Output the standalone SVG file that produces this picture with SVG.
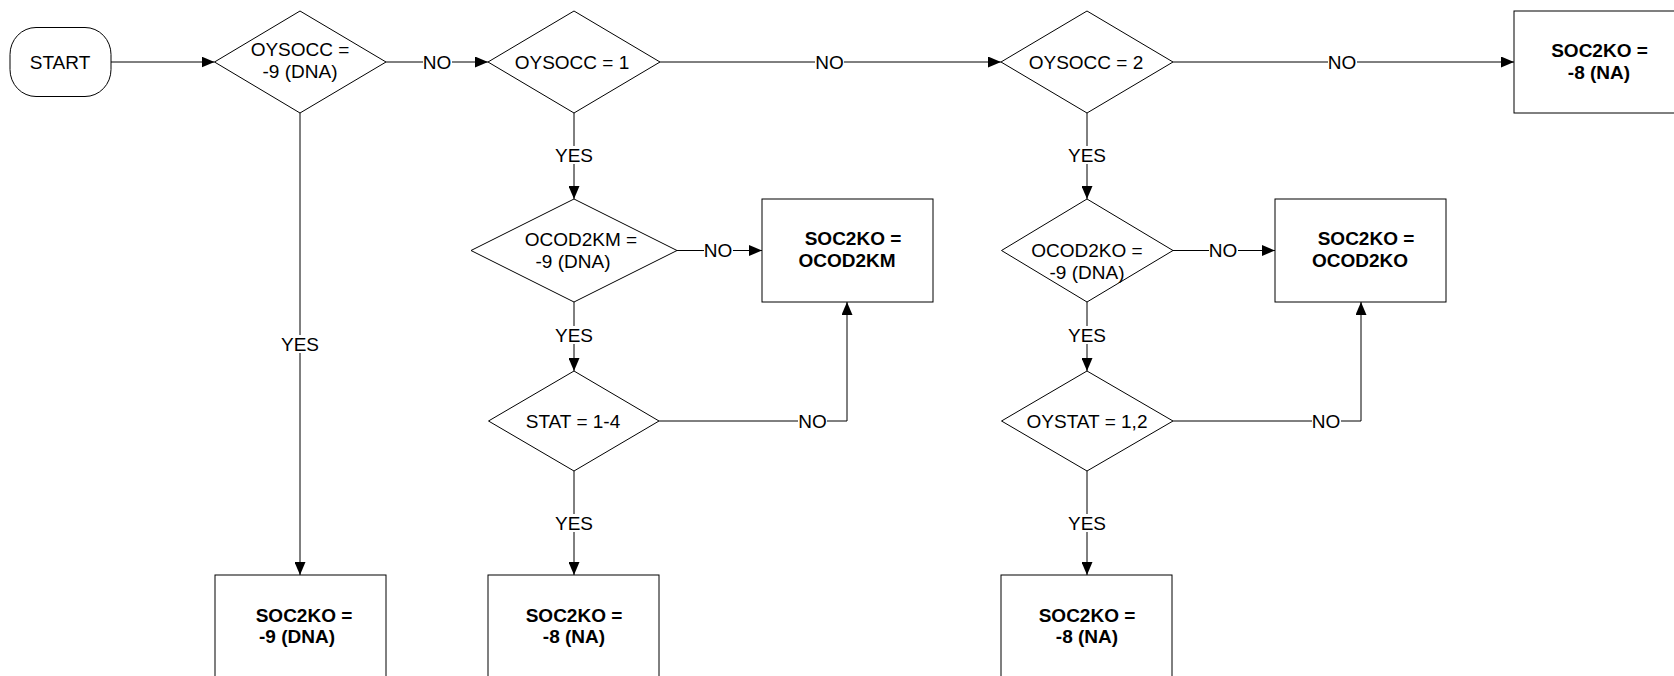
<svg xmlns="http://www.w3.org/2000/svg" width="1674" height="676" viewBox="0 0 1674 676">
<style>
.shape{fill:#fff;stroke:#000;stroke-width:1}
.ln{fill:none;stroke:#000;stroke-width:1}
text{font-family:"Liberation Sans",Arial,sans-serif;font-size:19px;fill:#000;text-anchor:middle}
.b{font-weight:bold}
.bg{fill:#fff;stroke:none}
</style>
<defs>
<marker id="arr" viewBox="0 0 13 11" refX="13" refY="5.5" markerWidth="13" markerHeight="11" markerUnits="userSpaceOnUse" orient="auto">
<path d="M0,0 L13,5.5 L0,11 z" fill="#000"/>
</marker>
</defs>

<g id="connectors">
<path class="ln" d="M111,62 H214.5" marker-end="url(#arr)"/>
<path class="ln" d="M386,62 H488" marker-end="url(#arr)"/>
<path class="ln" d="M660,62 H1001" marker-end="url(#arr)"/>
<path class="ln" d="M1173,62 H1514" marker-end="url(#arr)"/>
<path class="ln" d="M300,113 V575" marker-end="url(#arr)"/>
<path class="ln" d="M574,113 V199" marker-end="url(#arr)"/>
<path class="ln" d="M677,250.5 H762" marker-end="url(#arr)"/>
<path class="ln" d="M574,302 V371" marker-end="url(#arr)"/>
<path class="ln" d="M659,421 H847 V302" marker-end="url(#arr)"/>
<path class="ln" d="M574,471 V575" marker-end="url(#arr)"/>
<path class="ln" d="M1087,113 V199" marker-end="url(#arr)"/>
<path class="ln" d="M1173,250.5 H1275" marker-end="url(#arr)"/>
<path class="ln" d="M1087,302 V371" marker-end="url(#arr)"/>
<path class="ln" d="M1173,421 H1361 V302" marker-end="url(#arr)"/>
<path class="ln" d="M1087,471 V575" marker-end="url(#arr)"/>
<g id="labels">
<rect class="bg" x="423" y="53" width="29" height="18"/><text x="437" y="69">NO</text>
<rect class="bg" x="815" y="53" width="29" height="18"/><text x="829.5" y="69">NO</text>
<rect class="bg" x="1328" y="53" width="29" height="18"/><text x="1342" y="69">NO</text>
<rect class="bg" x="281" y="335" width="38" height="18"/><text x="300" y="351">YES</text>
<rect class="bg" x="555" y="146" width="38" height="18"/><text x="574" y="162">YES</text>
<rect class="bg" x="704" y="241.5" width="29" height="18"/><text x="718" y="257">NO</text>
<rect class="bg" x="555" y="326" width="38" height="18"/><text x="574" y="342">YES</text>
<rect class="bg" x="798" y="412" width="29" height="18"/><text x="812.5" y="428">NO</text>
<rect class="bg" x="555" y="514" width="38" height="18"/><text x="574" y="530">YES</text>
<rect class="bg" x="1068" y="146" width="38" height="18"/><text x="1087" y="162">YES</text>
<rect class="bg" x="1209" y="241.5" width="29" height="18"/><text x="1223" y="257">NO</text>
<rect class="bg" x="1068" y="326" width="38" height="18"/><text x="1087" y="342">YES</text>
<rect class="bg" x="1312" y="412" width="29" height="18"/><text x="1326" y="428">NO</text>
<rect class="bg" x="1068" y="514" width="38" height="18"/><text x="1087" y="530">YES</text>
</g>
</g>

<g id="start">
<rect class="shape" x="10" y="27.5" width="101" height="69" rx="26" ry="27"/>
<text x="60" y="69">START</text>
</g>
<g id="d1">
<polygon class="shape" points="214.5,62 300,11 386,62 300,113"/>
<text x="300" y="56">OYSOCC =</text>
<text x="300" y="78">-9 (DNA)</text>
</g>
<g id="d2">
<polygon class="shape" points="488,62 574,11 660,62 574,113"/>
<text x="572" y="69">OYSOCC = 1</text>
</g>
<g id="d3">
<polygon class="shape" points="1001,62 1087,11 1173,62 1087,113"/>
<text x="1086" y="69">OYSOCC = 2</text>
</g>
<g id="box-tr">
<rect class="shape" x="1514" y="11" width="171" height="102"/>
<text class="b" x="1599.5" y="57">SOC2KO =</text>
<text class="b" x="1599" y="79">-8 (NA)</text>
</g>
<g id="d4">
<polygon class="shape" points="471,250.5 574,199 677,250.5 574,302"/>
<text x="581" y="246">OCOD2KM =</text>
<text x="573" y="268">-9 (DNA)</text>
</g>
<g id="box-ocod2km">
<rect class="shape" x="762" y="199" width="171" height="103"/>
<text class="b" x="853" y="245">SOC2KO =</text>
<text class="b" x="847" y="267">OCOD2KM</text>
</g>
<g id="d5">
<polygon class="shape" points="488.5,421 574,371 659,421 574,471"/>
<text x="573" y="428">STAT = 1-4</text>
</g>
<g id="d6">
<polygon class="shape" points="1001.5,250.5 1087,199 1173,250.5 1087,302"/>
<text x="1087" y="257">OCOD2KO =</text>
<text x="1087" y="279">-9 (DNA)</text>
</g>
<g id="box-ocod2ko">
<rect class="shape" x="1275" y="199" width="171" height="103"/>
<text class="b" x="1366" y="245">SOC2KO =</text>
<text class="b" x="1360" y="267">OCOD2KO</text>
</g>
<g id="d7">
<polygon class="shape" points="1001.5,421 1087,371 1173,421 1087,471"/>
<text x="1087" y="428">OYSTAT = 1,2</text>
</g>
<g id="box1">
<rect class="shape" x="215" y="575" width="171" height="120"/>
<text class="b" x="304" y="622">SOC2KO =</text>
<text class="b" x="297" y="643">-9 (DNA)</text>
</g>
<g id="box2">
<rect class="shape" x="488" y="575" width="171" height="120"/>
<text class="b" x="574" y="622">SOC2KO =</text>
<text class="b" x="574" y="643">-8 (NA)</text>
</g>
<g id="box3">
<rect class="shape" x="1001" y="575" width="171" height="120"/>
<text class="b" x="1087" y="622">SOC2KO =</text>
<text class="b" x="1087" y="643">-8 (NA)</text>
</g>
</svg>
